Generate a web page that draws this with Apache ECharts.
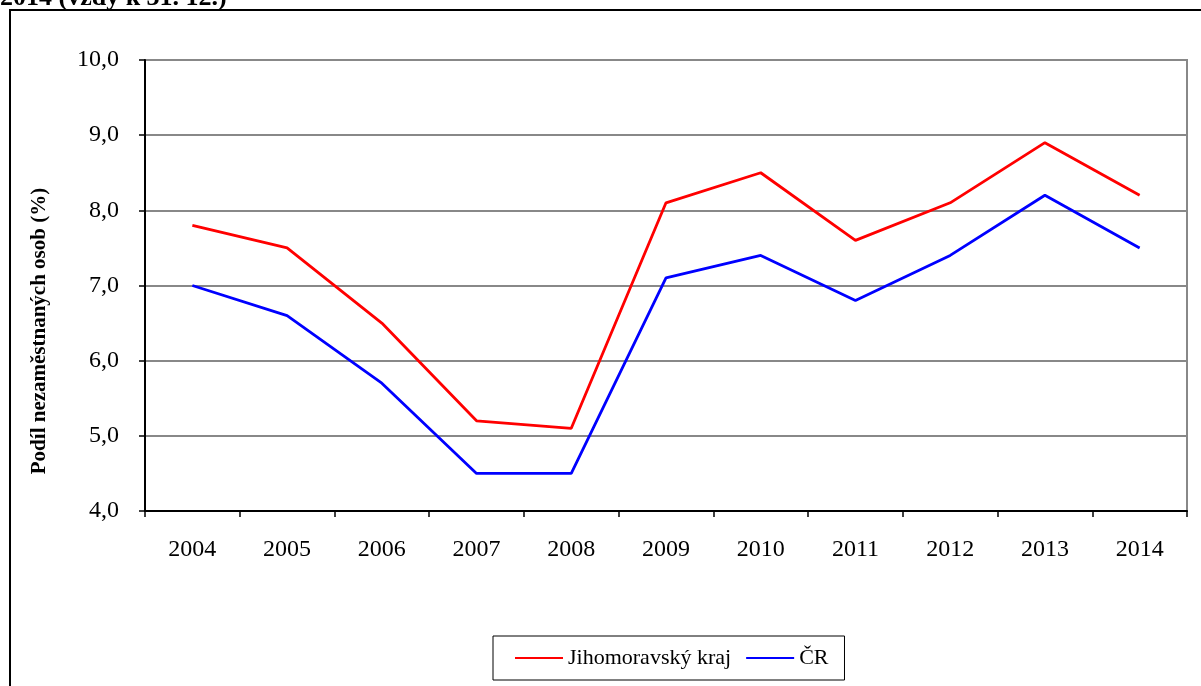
<!DOCTYPE html>
<html>
<head>
<meta charset="utf-8">
<script src="https://cdn.jsdelivr.net/npm/echarts@6/dist/echarts.min.js"></script>
<style>
  html, body { margin: 0; padding: 0; background: #fff; }
  #chart { width: 1201px; height: 686px; }
</style>
</head>
<body>
<div id="chart"></div>
<script>
var years = ['2004', '2005', '2006', '2007', '2008', '2009', '2010', '2011', '2012', '2013', '2014'];
var jihomoravsky = [7.8, 7.5, 6.5, 5.2, 5.1, 8.1, 8.5, 7.6, 8.1, 8.9, 8.2];
var cr = [7.0, 6.6, 5.7, 4.5, 4.5, 7.1, 7.4, 6.8, 7.4, 8.2, 7.5];

var serif = '"Liberation Serif", "DejaVu Serif", serif';

var myChart = echarts.init(document.getElementById('chart'));
var options = {
    animation: false,
    textStyle: { fontFamily: serif },
    graphic: [
        {
            type: 'rect',
            shape: { x: 10, y: 10, width: 1220, height: 700 },
            style: { fill: 'none', stroke: '#000', lineWidth: 2 }
        },
        {
            type: 'text',
            left: 0,
            top: -15,
            style: {
                text: '2014 (vždy k 31. 12.)',
                font: 'bold 26px ' + serif,
                fill: '#000'
            }
        },
        {
            // y axis title
            type: 'text',
            x: 40,
            y: 331,
            rotation: Math.PI / 2,
            style: {
                text: 'Podíl nezaměstnaných osob (%)',
                font: 'bold 21px ' + serif,
                fill: '#000',
                align: 'center',
                verticalAlign: 'middle'
            }
        }
    ],
    grid: {
        left: 145,
        right: 14,
        top: 60,
        bottom: 175,
        show: true,
        borderColor: '#888',
        borderWidth: 2,
        containLabel: false
    },
    legend: {
        bottom: 6,
        left: 493,
        data: ['Jihomoravský kraj', 'ČR'],
        icon: 'rect',
        itemWidth: 48,
        itemHeight: 2,
        itemGap: 15,
        padding: [11, 16, 11, 22],
        borderColor: '#000',
        borderWidth: 1,
        textStyle: { fontFamily: serif, fontSize: 22, color: '#000' }
    },
    xAxis: {
        type: 'category',
        data: years,
        boundaryGap: true,
        axisLine: { lineStyle: { color: '#000', width: 2 } },
        axisTick: { show: true, length: 6, lineStyle: { color: '#000', width: 1.5 } },
        axisLabel: { margin: 27, fontFamily: serif, fontSize: 24, color: '#000' },
        splitLine: { show: false }
    },
    yAxis: {
        type: 'value',
        min: 4,
        max: 10,
        interval: 1,
        axisLine: { show: true, lineStyle: { color: '#000', width: 2 } },
        axisTick: { show: true, length: 6, lineStyle: { color: '#000', width: 1.5 } },
        axisLabel: {
            margin: 26,
            fontFamily: serif,
            fontSize: 24,
            color: '#000',
            formatter: function (v) { return v.toFixed(1).replace('.', ','); }
        },
        splitLine: { show: true, lineStyle: { color: '#888', width: 2 } }
    },
    series: [
        {
            name: 'Jihomoravský kraj',
            type: 'line',
            data: jihomoravsky,
            symbol: 'none',
            color: '#ff0000',
            lineStyle: { color: '#ff0000', width: 2.8 }
        },
        {
            name: 'ČR',
            type: 'line',
            data: cr,
            symbol: 'none',
            color: '#0000ff',
            lineStyle: { color: '#0000ff', width: 2.8 }
        }
    ]
};
myChart.setOption(options);
</script>
</body>
</html>
